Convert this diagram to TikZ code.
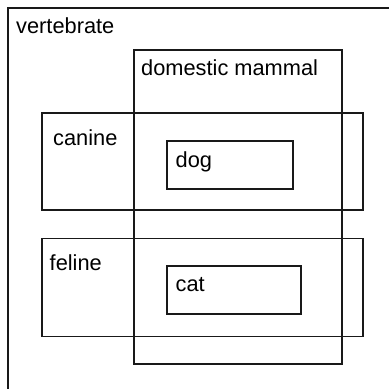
\documentclass[tikz,border=0pt]{standalone}
\usepackage{fontspec}
\setmainfont{Liberation Sans}
\begin{document}
\begin{tikzpicture}[x=1pt,y=-1pt,
  box/.style={draw=black!90, line width=1.6pt, rectangle, inner sep=0pt, anchor=north west},
  lbl/.style={anchor=base west, inner sep=0pt, font=\fontsize{21.8pt}{24pt}\selectfont}]
\useasboundingbox (0,0) rectangle (389,389);
\clip (0,0) rectangle (389,389);
\fill[white] (0,0) rectangle (389,389);
\node[box, line width=2.2pt, minimum width=400pt, minimum height=400pt] (vert) at (7,7) {};
\node[box, minimum width=208pt, minimum height=314pt] (dom) at (133,49) {};
\node[box, minimum width=321pt, minimum height=97pt] (can) at (41,112) {};
\node[box, minimum width=321pt, minimum height=98pt] (fel) at (41,237.5) {};
\node[box, minimum width=126pt, minimum height=48pt] (dog) at (166.3,140) {};
\node[box, minimum width=134pt, minimum height=48pt] (cat) at (166,265) {};
\node[lbl] (tv) at (16,33.3) {vertebrate};
\node[lbl] (td) at (141,75) {domestic mammal};
\node[lbl] (tc) at (53,145.7) {canine};
\node[lbl] (tf) at (49.5,270) {feline};
\node[lbl] (tdog) at (175.5,167.5) {dog};
\node[lbl] (tcat) at (175.5,291.7) {cat};
\end{tikzpicture}
\end{document}
